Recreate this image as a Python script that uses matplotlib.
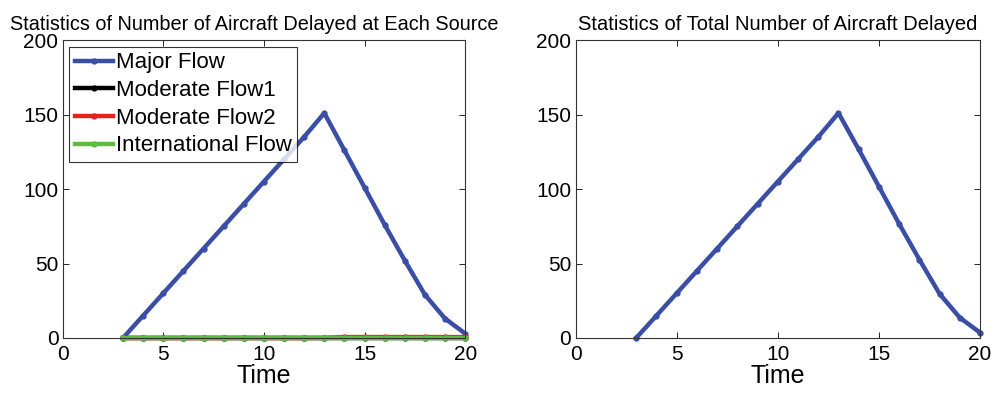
import numpy as np
import matplotlib.pyplot as plt

plt.rcParams['font.family'] = ['Liberation Sans', 'DejaVu Sans']

time = np.arange(3, 21)
major_flow = [0, 15, 30, 45, 60, 75, 90, 105, 120, 135, 151, 126, 101, 76, 52, 29, 13, 3]
moderate_flow1 = [0] * 18
moderate_flow2 = [0] * 11 + [0.6] * 7
international_flow = [0] * 18
total_delayed = [a + b + c + d for a, b, c, d in
                 zip(major_flow, moderate_flow1, moderate_flow2, international_flow)]

blue = '#3a4ea6'
lw = 3.2
ms = 7

fig = plt.figure(figsize=(9.94, 3.93), dpi=100)
ax1 = fig.add_axes([0.063, 0.14, 0.405, 0.758])
ax2 = fig.add_axes([0.579, 0.14, 0.407, 0.758])

ax1.plot(time, major_flow, '.-', color=blue, lw=lw, ms=ms, label='Major Flow', clip_on=False)
ax1.plot(time, moderate_flow1, '.-', color='black', lw=lw, ms=ms, label='Moderate Flow1', clip_on=False)
ax1.plot(time, moderate_flow2, '.-', color='#e4231c', lw=lw, ms=ms, label='Moderate Flow2', clip_on=False)
ax1.plot(time, international_flow, '.-', color='#5dbb3f', lw=lw, ms=ms, label='International Flow', clip_on=False)
ax1.set_title('Statistics of Number of Aircraft Delayed at Each Source', fontsize=14.3, pad=7, x=0.475)
leg = ax1.legend(loc='upper left', fontsize=16, frameon=True, fancybox=False,
                 edgecolor='black', borderaxespad=0.3, handlelength=1.7,
                 handletextpad=0.15, labelspacing=0.3, borderpad=0.25)
leg.get_frame().set_linewidth(0.8)

ax2.plot(time, total_delayed, '.-', color=blue, lw=lw, ms=ms, clip_on=False)
ax2.set_title('Statistics of Total Number of Aircraft Delayed', fontsize=14.5, pad=7)

for ax in (ax1, ax2):
    ax.set_xlim(0, 20)
    ax.set_ylim(0, 200)
    ax.set_xticks([0, 5, 10, 15, 20])
    ax.set_yticks([0, 50, 100, 150, 200])
    ax.set_xlabel('Time', fontsize=18, labelpad=0)
    ax.tick_params(direction='in', top=True, right=True, labelsize=15, length=4,
                   width=0.6)
    ax.tick_params(axis='x', pad=5)
    ax.tick_params(axis='y', pad=3)
    for s in ax.spines.values():
        s.set_linewidth(0.8)
        s.set_color('#333333')

fig.savefig('out.png', dpi=100)
